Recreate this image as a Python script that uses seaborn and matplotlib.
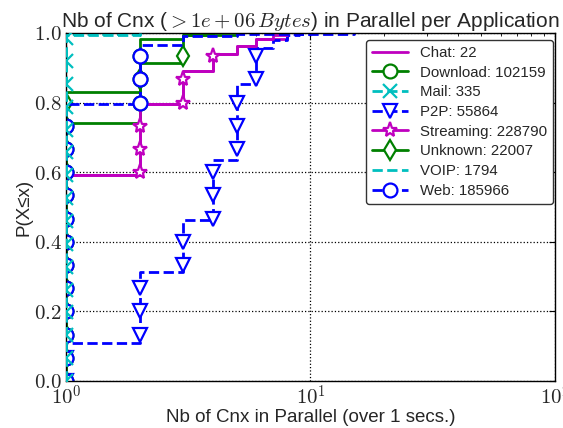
import math
import matplotlib
matplotlib.use("Agg")
import matplotlib.pyplot as plt
import matplotlib.ticker as mticker
import seaborn as sns

# CDF steps: value (nb of cnx) -> P(X<=x)
chat_x = [1, 2, 3, 4, 5, 6, 8]
chat_cdf = [0.591, 0.797, 0.891, 0.940, 0.963, 0.983, 1.0]

download_x = [1, 2, 3, 5]
download_cdf = [0.741, 0.983, 0.995, 1.0]

mail_x = [1, 2]
mail_cdf = [0.994, 1.0]

p2p_x = [1, 2, 3, 4, 5, 6, 7, 8, 9, 15]
p2p_cdf = [0.109, 0.313, 0.463, 0.635, 0.853, 0.957, 0.980, 0.994, 0.997, 1.0]

streaming_x = [1, 2, 3, 4, 5, 6, 7, 8]
streaming_cdf = [0.591, 0.797, 0.891, 0.940, 0.963, 0.983, 0.994, 1.0]

unknown_x = [1, 2, 3, 4]
unknown_cdf = [0.830, 0.914, 0.993, 1.0]

voip_x = [1, 2]
voip_cdf = [0.997, 1.0]

web_x = [1, 2, 3, 5, 10]
web_cdf = [0.796, 0.966, 0.990, 0.996, 1.0]

apps = ["Chat", "Download", "Mail", "P2P", "Streaming", "Unknown", "VOIP", "Web"]
counts = [22, 102159, 335, 55864, 228790, 22007, 1794, 185966]
series_x = [chat_x, download_x, mail_x, p2p_x, streaming_x, unknown_x, voip_x, web_x]
series_cdf = [chat_cdf, download_cdf, mail_cdf, p2p_cdf, streaming_cdf, unknown_cdf, voip_cdf, web_cdf]

colors = ["m", "g", "c", "b", "m", "g", "c", "b"]
styles = ["-", "-", "--", "--", "-", "-", "--", "--"]
markers = [None, "o", "x", "v", "*", "d", None, "o"]


def step_path(xs, cdf, n):
    # step line of the cdf, with extra points where the markers sit
    # (one marker every n//15 samples, as in the original plot)
    levels = [k * (n // 15) / n for k in range(16)]
    px, py, marks = [], [], []
    prev = 0.0
    for x, c in zip(xs, cdf):
        px.append(x)
        py.append(prev)
        for q in levels:
            if prev <= q < c - 0.001:
                px.append(x)
                py.append(q)
                marks.append(len(px) - 1)
        px.append(x)
        py.append(c)
        prev = c
    return px, py, marks


sns.set_style("white")
plt.rcParams["font.family"] = ["Liberation Sans", "DejaVu Sans"]
plt.rcParams["mathtext.fontset"] = "cm"

fig = plt.figure(figsize=(5.63, 4.28), dpi=100)
ax = fig.add_axes([0.117, 0.110, 0.869, 0.813])

for app, n, xs, cdf, col, ls, mk in zip(apps, counts, series_x, series_cdf,
                                        colors, styles, markers):
    px, py, marks = step_path(xs, cdf, n)
    kw = dict(color=col, linestyle=ls, linewidth=2)
    if mk is not None:
        kw.update(marker=mk, markevery=marks, markersize=10 if mk != "*" else 11,
                  markerfacecolor="white", markeredgecolor=col, markeredgewidth=1.6)
    if app == "Mail":
        kw["zorder"] = 3
    sns.lineplot(x=px, y=py, sort=False, estimator=None, ax=ax,
                 label=f"{app}: {n}", **kw)

ax.set_xscale("log")
ax.set_xlim(1, 100)
ax.set_ylim(0, 1.0)
ax.set_yticks([0, 0.2, 0.4, 0.6, 0.8, 1.0])
ax.yaxis.set_major_formatter(mticker.FuncFormatter(lambda v, p: r"$%.1f$" % v))
ax.xaxis.set_major_formatter(mticker.FuncFormatter(
    lambda v, p: r"$10^{%d}$" % round(math.log10(v))))
ax.xaxis.set_minor_formatter(mticker.NullFormatter())
ax.tick_params(which="both", direction="in", top=True, right=True, labelsize=15,
               color="black")
ax.tick_params(which="major", length=4, width=0.8, pad=3)
ax.tick_params(which="minor", length=2, width=0.6)
ax.grid(True, which="major", color="black", linestyle=":", linewidth=0.9)
for s in ax.spines.values():
    s.set_color("black")
    s.set_linewidth(1.0)

ax.set_title(r"Nb of Cnx ($> 1e+06\,Bytes$) in Parallel per Application",
             fontsize=15, pad=4)
ax.set_xlabel("Nb of Cnx in Parallel (over 1 secs.)", fontsize=13.5, labelpad=0)
ax.set_ylabel("P(X≤x)", fontsize=13.5, labelpad=1)

leg = ax.legend(loc="upper right", bbox_to_anchor=(0.996, 0.98), borderaxespad=0,
                fontsize=10.8, numpoints=1, handlelength=2.4,
                fancybox=True, framealpha=1, edgecolor="#333333",
                labelspacing=0.38)

fig.savefig("out.png", dpi=100)
